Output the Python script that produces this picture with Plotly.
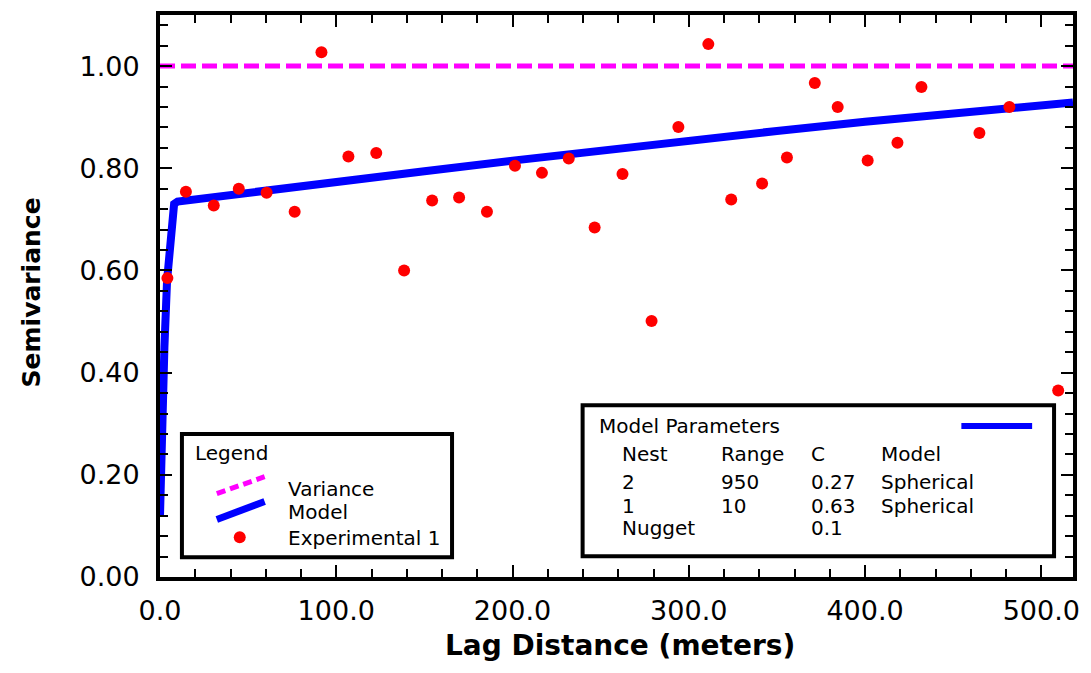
import plotly.graph_objects as go

# ---------------- data ----------------
LAG = [4.2, 14.7, 30.5, 44.7, 60.5, 76.4, 91.6, 106.9, 122.7, 138.5, 154.4,
       169.7, 185.5, 201.4, 216.7, 231.9, 246.6, 262.4, 278.9, 294.1, 311.1,
       324.1, 341.6, 355.7, 371.5, 384.5, 401.5, 418.4, 432.0, 464.9, 481.9, 509.6]
SEMIVAR = [0.585, 0.754, 0.727, 0.760, 0.752, 0.715, 1.027, 0.823, 0.830, 0.600,
           0.737, 0.743, 0.715, 0.805, 0.791, 0.819, 0.684, 0.789, 0.501, 0.881,
           1.043, 0.739, 0.770, 0.821, 0.967, 0.920, 0.815, 0.850, 0.959, 0.869,
           0.920, 0.365]

MODEL_LAG = [0, 1, 2.5, 4, 6, 8, 10, 50, 100, 150, 200, 250, 300, 350, 400, 450, 518]
MODEL_VAL = [0.12, 0.30, 0.45, 0.58, 0.68, 0.73, 0.735, 0.751, 0.773, 0.794,
             0.815, 0.835, 0.854, 0.873, 0.891, 0.908, 0.929]

VARIANCE = 1.0
X_RANGE = [0, 518]
Y_RANGE = [0, 1.1]

PARAM_HEADER = ["Nest", "Range", "C", "Model"]
PARAM_ROWS = [["2", "950", "0.27", "Spherical"],
              ["1", "10", "0.63", "Spherical"],
              ["Nugget", "", "0.1", ""]]

LEGEND_LABELS = ["Variance", "Model", "Experimental 1"]

# ---------------- layout geometry (pixels) ----------------
W, H = 1091, 673
L, R, T, B = 160, 1076, 11, 577


def px(x):
    return (x - L) / (R - L)


def py(y):
    return (B - y) / (B - T)


FONT = "DejaVu Sans, Liberation Sans, sans-serif"
BLUE = "#0000ff"
MAGENTA = "#ff00ff"
RED = "#ff0000"

fig = go.Figure()

fig.add_trace(go.Scatter(
    x=X_RANGE, y=[VARIANCE, VARIANCE], mode="lines",
    line=dict(color=MAGENTA, width=5, dash="15px,6px"),
    showlegend=False, hoverinfo="skip"))

fig.add_trace(go.Scatter(
    x=MODEL_LAG, y=MODEL_VAL, mode="lines",
    line=dict(color=BLUE, width=8),
    showlegend=False))

fig.add_trace(go.Scatter(
    x=LAG, y=SEMIVAR, mode="markers",
    marker=dict(color=RED, size=12),
    showlegend=False, cliponaxis=False))

shapes = []
annotations = []

TXT = dict(family=FONT, size=20, color="black")

# Legend box
shapes.append(dict(type="rect", xref="paper", yref="paper",
                   x0=px(182), x1=px(453), y0=py(557), y1=py(433),
                   line=dict(color="black", width=4), fillcolor="white", layer="above"))
shapes.append(dict(type="line", xref="paper", yref="paper",
                   x0=px(217), y0=py(493), x1=px(265), y1=py(476),
                   line=dict(color=MAGENTA, width=5, dash="9px,5px"), layer="above"))
shapes.append(dict(type="line", xref="paper", yref="paper",
                   x0=px(217), y0=py(519), x1=px(265), y1=py(501),
                   line=dict(color=BLUE, width=7), layer="above"))
shapes.append(dict(type="circle", xref="paper", yref="paper",
                   x0=px(234), x1=px(246), y0=py(543), y1=py(531),
                   line=dict(color=RED, width=0), fillcolor=RED, layer="above"))

annotations.append(dict(text="Legend", xref="paper", yref="paper",
                        x=px(193), y=py(452), xanchor="left", yanchor="middle",
                        showarrow=False, font=TXT))
for lab, yy in zip(LEGEND_LABELS, [488, 512, 538]):
    annotations.append(dict(text=lab, xref="paper", yref="paper",
                            x=px(286), y=py(yy), xanchor="left", yanchor="middle",
                            showarrow=False, font=TXT))

# Model parameters box
shapes.append(dict(type="rect", xref="paper", yref="paper",
                   x0=px(584), x1=px(1057), y0=py(556), y1=py(404),
                   line=dict(color="black", width=4), fillcolor="white", layer="above"))
shapes.append(dict(type="line", xref="paper", yref="paper",
                   x0=px(964), y0=py(425), x1=px(1035), y1=py(425),
                   line=dict(color=BLUE, width=6), layer="above"))
annotations.append(dict(text="Model Parameters", xref="paper", yref="paper",
                        x=px(598), y=py(425), xanchor="left", yanchor="middle",
                        showarrow=False, font=TXT))
col_x = [622, 721, 811, 881]
row_y = [453, 481, 505, 528]
for cx, txt in zip(col_x, PARAM_HEADER):
    annotations.append(dict(text=txt, xref="paper", yref="paper",
                            x=px(cx), y=py(row_y[0]), xanchor="left", yanchor="middle",
                            showarrow=False, font=TXT))
for ry, row in zip(row_y[1:], PARAM_ROWS):
    for cx, txt in zip(col_x, row):
        if txt:
            annotations.append(dict(text=txt, xref="paper", yref="paper",
                                    x=px(cx), y=py(ry), xanchor="left", yanchor="middle",
                                    showarrow=False, font=TXT))

# Axis titles
annotations.append(dict(text="<b>Lag Distance (meters)</b>", xref="paper", yref="paper",
                        x=px(622), y=py(646), xanchor="center", yanchor="middle",
                        showarrow=False, font=dict(family=FONT, size=28, color="black")))
annotations.append(dict(text="<b>Semivariance</b>", xref="paper", yref="paper",
                        x=px(31), y=py(290), xanchor="center", yanchor="middle",
                        textangle=-90, showarrow=False,
                        font=dict(family=FONT, size=25, color="black")))

axis_common = dict(
    showgrid=False, zeroline=False, showline=True, linecolor="black", linewidth=4,
    mirror="allticks", ticks="inside", tickcolor="black", tickwidth=2, ticklen=12,
    tickfont=dict(family=FONT, size=27, color="black"),
)

fig.update_xaxes(range=X_RANGE, dtick=100, tick0=0, tickformat=".1f",
                 minor=dict(dtick=20, ticks="inside", ticklen=8, tickwidth=2, tickcolor="black"),
                 ticklabelstandoff=7, **axis_common)
fig.update_yaxes(range=Y_RANGE, dtick=0.2, tick0=0, tickformat=".2f",
                 minor=dict(dtick=0.04, ticks="inside", ticklen=8, tickwidth=2, tickcolor="black"),
                 ticklabelstandoff=11, **axis_common)

fig.update_layout(
    width=W, height=H,
    margin=dict(l=L, r=W - R, t=T, b=H - B, pad=0),
    paper_bgcolor="white", plot_bgcolor="white",
    shapes=shapes, annotations=annotations,
    showlegend=False,
)

fig.write_html("out.html")
